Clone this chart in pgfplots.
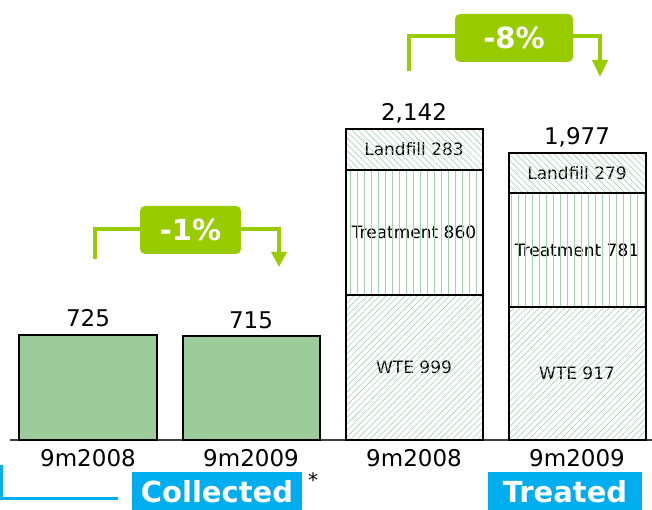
\documentclass[border=0pt]{standalone}
\usepackage{fontspec}
\setmainfont{DejaVu Sans}
\usepackage{pgfplots}
\pgfplotsset{compat=1.18}
\usetikzlibrary{patterns.meta,arrows.meta}
\definecolor{bargreen}{RGB}{155,204,153}
\definecolor{hatch}{RGB}{160,212,172}
\definecolor{lime}{RGB}{153,204,0}
\definecolor{cyanblue}{RGB}{0,174,239}
\begin{document}
\begin{tikzpicture}
\useasboundingbox (0pt,0pt) rectangle (652pt,510pt);
\begin{axis}[at={(10pt,70pt)}, anchor=south west, scale only axis,
  width=642pt, height=440pt,
  xmin=-0.4785, xmax=3.46, ymin=0, ymax=3030,
  axis x line*=bottom, axis y line=none,
  axis line style={-, draw=black!75, line width=1.5pt},
  ybar stacked, bar width=137pt,
  xtick={0,1,2,3}, xticklabels={9m2008,9m2009,9m2008,9m2009},
  xticklabel style={font=\fontsize{23}{23}\selectfont, anchor=base, yshift=-27pt},
  major tick length=0pt, ytick=\empty,
  clip=false,
]
\addplot[fill=bargreen, draw=black, line width=2pt] coordinates {(0,725) (1,715) (2,0) (3,0)};
\addplot[pattern={Lines[angle=45,distance=4.5pt,line width=0.6pt]}, pattern color=hatch, draw=black, line width=2pt] coordinates {(0,0) (1,0) (2,999) (3,917)};
\addplot[pattern={Lines[angle=90,distance=7pt,line width=0.8pt]}, pattern color=hatch, draw=black, line width=2pt] coordinates {(0,0) (1,0) (2,860) (3,781)};
\addplot[pattern={Lines[angle=-45,distance=4.5pt,line width=0.6pt]}, pattern color=hatch, draw=black, line width=2pt] coordinates {(0,0) (1,0) (2,283) (3,279)};
\tikzset{inl/.style={fill=white, inner sep=1.5pt, font=\fontsize{17}{17}\selectfont}, tot/.style={anchor=base, yshift=8pt, font=\fontsize{23}{23}\selectfont}}
\node[inl] at (axis cs:2,499.5) {WTE 999};
\node[inl] at (axis cs:2,1429) {Treatment 860};
\node[inl] at (axis cs:2,2000.5) {Landfill 283};
\node[inl] at (axis cs:3,458.5) {WTE 917};
\node[inl] at (axis cs:3,1307.5) {Treatment 781};
\node[inl] at (axis cs:3,1837.5) {Landfill 279};
\node[tot] at (axis cs:0,725) {725};
\node[tot] at (axis cs:1,715) {715};
\node[tot] at (axis cs:2,2142) {2,142};
\node[tot] at (axis cs:3,1977) {1,977};
\end{axis}
% -1% bracket
\draw[lime, line width=3.5pt, -{Triangle[width=15pt,length=15pt]}] (95pt,251pt) -- (95pt,281pt) -- (279pt,281pt) -- (279pt,243pt);
\fill[lime, rounded corners=5pt] (140pt,256pt) rectangle (241pt,304pt);
\node[text=white, font=\bfseries\fontsize{29}{29}\selectfont] at (190.5pt,280pt) {-1\%};
% -8% bracket
\draw[lime, line width=3.5pt, -{Triangle[width=15pt,length=17pt]}] (409pt,439pt) -- (409pt,474pt) -- (600pt,474pt) -- (600pt,433pt);
\fill[lime, rounded corners=5pt] (455pt,448pt) rectangle (573pt,496pt);
\node[text=white, font=\bfseries\fontsize{29}{29}\selectfont] at (514pt,472pt) {-8\%};
% bottom labels
\draw[cyanblue, line width=3pt] (1.5pt,45pt) -- (1.5pt,11pt) -- (118pt,11pt);
\fill[cyanblue] (132pt,-10pt) rectangle (302pt,38pt);
\node[anchor=base, inner sep=0pt, text=white, font=\bfseries\fontsize{29}{29}\selectfont] at (217pt,7pt) {Collected};
\node[font=\fontsize{20}{20}\selectfont] at (313pt,30pt) {*};
\fill[cyanblue] (488pt,-10pt) rectangle (642pt,38pt);
\node[anchor=base, inner sep=0pt, text=white, font=\bfseries\fontsize{29}{29}\selectfont] at (565pt,7pt) {Treated};
\end{tikzpicture}
\end{document}
